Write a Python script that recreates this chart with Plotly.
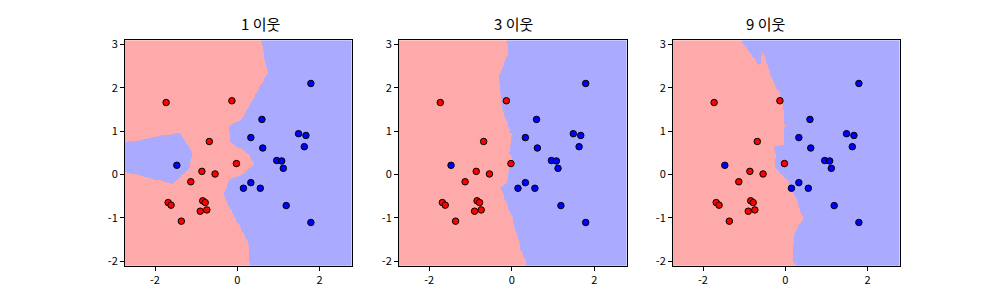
import numpy as np
import plotly.graph_objects as go

# data points (feature 0, feature 1) and class labels
x0 = [-1.73, -0.13, -0.68, -0.02, -0.86, -0.54, -1.13, -1.68, -1.61, -0.84, -0.78, -0.90, -0.74, -1.36,
      1.79, 0.60, 0.33, 0.62, 1.49, 1.67, 1.63, 0.96, 1.08, 1.12, -1.47, 0.15, 0.33, 0.56, 1.19, 1.79]
x1 = [1.66, 1.70, 0.76, 0.25, 0.07, 0.01, -0.17, -0.65, -0.71, -0.61, -0.65, -0.85, -0.82, -1.08,
      2.10, 1.27, 0.85, 0.61, 0.94, 0.90, 0.64, 0.32, 0.31, 0.14, 0.21, -0.32, -0.19, -0.32, -0.72, -1.11]
labels = [0]*14 + [1]*16
neighbors = [1, 3, 9]
titles = ["1 이웃", "3 이웃", "9 이웃"]
xtick_vals = [-2, 0, 2]
ytick_vals = [-2, -1, 0, 1, 2, 3]

X = np.column_stack([x0, x1])
y = np.array(labels)
xmin, xmax = X[:, 0].min() - 1, X[:, 0].max() + 1
ymin, ymax = X[:, 1].min() - 1, X[:, 1].max() + 1
gx = np.arange(xmin, xmax, 0.02)
gy = np.arange(ymin, ymax, 0.02)
GX, GY = np.meshgrid(gx, gy)
pts = np.column_stack([GX.ravel(), GY.ravel()])
d = ((pts[:, None, :] - X[None, :, :]) ** 2).sum(-1)
order = np.argsort(d, axis=1, kind="stable")

fig = go.Figure()
domains = [(0.125, 0.352), (0.399, 0.627), (0.673, 0.900)]
font = "Noto Sans CJK KR"
for i, k in enumerate(neighbors):
    votes = y[order[:, :k]].mean(axis=1)
    Z = (votes > 0.5).astype(int).reshape(GX.shape)
    xa = "x" if i == 0 else f"x{i+1}"
    ya = "y" if i == 0 else f"y{i+1}"
    fig.add_trace(go.Heatmap(x=gx, y=gy, z=Z, colorscale=[[0, "#FFAAAA"], [1, "#AAAAFF"]],
                             zmin=0, zmax=1, showscale=False, xaxis=xa, yaxis=ya, hoverinfo="skip"))
    for cls, col in [(0, "#FF0000"), (1, "#0000FF")]:
        m = y == cls
        fig.add_trace(go.Scatter(x=X[m, 0], y=X[m, 1], mode="markers", xaxis=xa, yaxis=ya,
                                 marker=dict(color=col, size=6.5, line=dict(color="black", width=1)),
                                 showlegend=False))
    axkw = dict(showgrid=False, zeroline=False, showline=True, linecolor="black", linewidth=1,
                mirror=True, ticks="outside", ticklen=4, tickcolor="black",
                tickfont=dict(family=font, size=11, color="black"))
    fig.layout[("xaxis" if i == 0 else f"xaxis{i+1}")] = dict(
        domain=list(domains[i]), range=[xmin, xmax], anchor=ya,
        tickvals=xtick_vals, ticktext=[str(v) for v in xtick_vals], **axkw)
    fig.layout[("yaxis" if i == 0 else f"yaxis{i+1}")] = dict(
        domain=[0.11, 0.88], range=[ymin, ymax], anchor=xa,
        tickvals=ytick_vals, ticktext=[str(v) for v in ytick_vals], **axkw)
    fig.add_annotation(text=titles[i], x=(domains[i][0] + domains[i][1]) / 2, y=0.88,
                       xref="paper", yref="paper", yanchor="bottom", yshift=4, showarrow=False,
                       font=dict(family=font, size=15, color="black"))

fig.update_layout(width=1000, height=300, margin=dict(l=0, r=0, t=0, b=0),
                  plot_bgcolor="white", paper_bgcolor="white", showlegend=False)
fig.write_html("out.html")
